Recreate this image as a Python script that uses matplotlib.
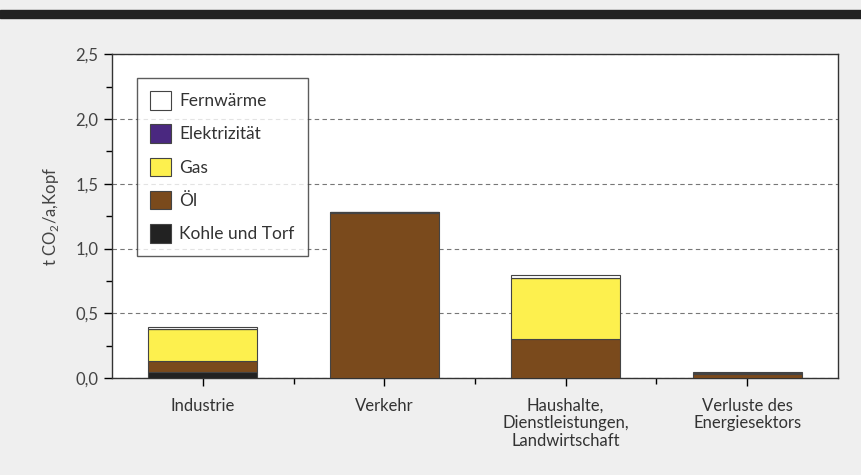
import matplotlib
matplotlib.use('Agg')
import matplotlib.pyplot as plt
from matplotlib.patches import Rectangle
from matplotlib.ticker import MultipleLocator, FixedLocator
import numpy as np

plt.rcParams['font.family'] = ['Lato', 'DejaVu Sans']
plt.rcParams['mathtext.fontset'] = 'custom'
plt.rcParams['mathtext.rm'] = 'Lato'

sektoren = ['Industrie', 'Verkehr', 'Haushalte,\nDienstleistungen,\nLandwirtschaft',
            'Verluste des\nEnergiesektors']
# t CO2 pro Kopf und Jahr, nach Energieträger
kohle = [0.05, 0.0, 0.0, 0.0]
oel = [0.08, 1.275, 0.30, 0.03]
gas = [0.247, 0.005, 0.47, 0.012]
strom = [0.004, 0.0, 0.0, 0.0]
fernwaerme = [0.012, 0.0, 0.025, 0.002]

traeger = ['Kohle und Torf', 'Öl', 'Gas', 'Elektrizität', 'Fernwärme']
farben = ['#222222', '#7a4a1c', '#fdf04e', '#4a2880', '#ffffff']

fig = plt.figure(figsize=(8.62, 4.75), dpi=100, facecolor='#efefef')
fig.patches.append(Rectangle((0, 0.962), 1, 0.017, transform=fig.transFigure,
                             color='#222222', zorder=5))
ax = fig.add_axes([0.130, 0.204, 0.842, 0.682])
ax.set_facecolor('white')

x = np.arange(len(sektoren))
unten = np.zeros(len(sektoren))
for name, werte, farbe in zip(traeger, [kohle, oel, gas, strom, fernwaerme], farben):
    ax.bar(x, werte, 0.6, bottom=unten, color=farbe, edgecolor='#444444',
           linewidth=0.8, label=name, zorder=3)
    unten = unten + np.array(werte)

ax.set_xlim(-0.5, 3.5)
ax.set_ylim(0, 2.5)
ax.yaxis.set_minor_locator(MultipleLocator(0.25))
ax.set_yticks([0, 0.5, 1.0, 1.5, 2.0, 2.5])
ax.set_yticklabels(['0,0', '0,5', '1,0', '1,5', '2,0', '2,5'])
ax.set_xticks(x)
ax.set_xticklabels(sektoren, fontsize=12, color='#333333', linespacing=1.15)
ax.xaxis.set_minor_locator(FixedLocator([0.5, 1.5, 2.5]))
ax.tick_params(axis='y', labelsize=12, labelcolor='#444444', length=6, width=1, pad=4)
ax.tick_params(axis='y', which='minor', length=4, width=1)
ax.tick_params(axis='x', length=6, width=1, pad=8)
ax.tick_params(axis='x', which='minor', length=4, width=1)
ax.grid(axis='y', which='major', linestyle='--', color='#777777', linewidth=0.8,
        dashes=(4, 3), zorder=0)
for s in ax.spines.values():
    s.set_color('#333333')
    s.set_linewidth(1.0)

ax.set_ylabel('t CO$_2$/a,Kopf', fontsize=12, color='#444444', labelpad=10)

handles, labels = ax.get_legend_handles_labels()
leg = ax.legend(handles[::-1], labels[::-1], loc='upper left',
                bbox_to_anchor=(0.034, 0.926), borderaxespad=0, fontsize=12.5,
                frameon=True, fancybox=False, edgecolor='#333333', handlelength=1.2,
                handleheight=1.25, labelspacing=0.86, borderpad=0.75,
                handletextpad=0.5, labelcolor='#333333')
leg.get_frame().set_linewidth(1.0)
leg.set_zorder(6)

fig.savefig('out.png', dpi=100, facecolor=fig.get_facecolor())
